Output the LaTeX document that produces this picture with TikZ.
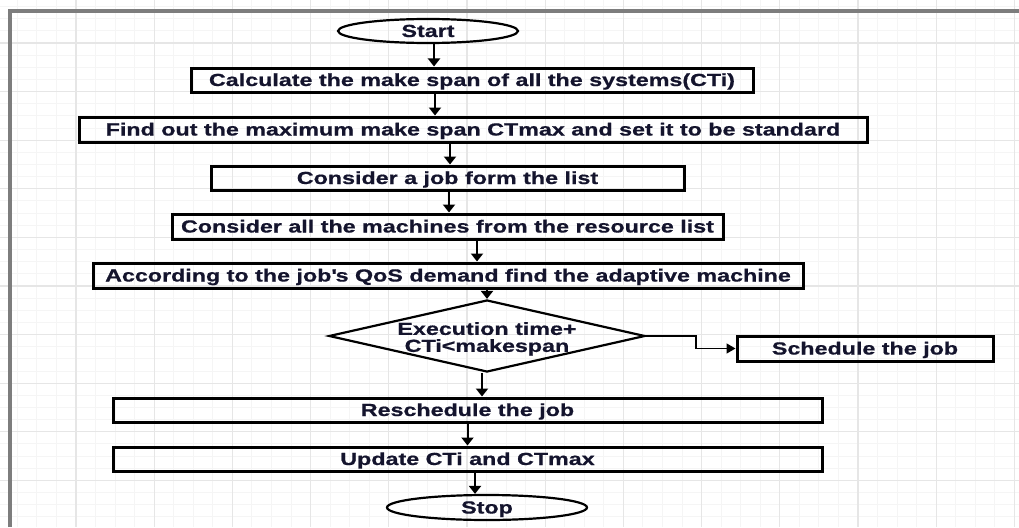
\documentclass[tikz,border=0pt]{standalone}
\usepackage{fontspec}
\setmainfont{Liberation Sans}[FakeStretch=1.33,BoldFeatures={FakeBold=0.8}]
\usetikzlibrary{arrows.meta,positioning,shapes.geometric}
\definecolor{txtcol}{RGB}{20,20,45}
\definecolor{framecol}{RGB}{125,125,125}
\definecolor{gridmaj}{RGB}{230,230,230}
\definecolor{gridmin}{RGB}{245,245,245}

\begin{document}
\begin{tikzpicture}[
            x=1pt,y=-1pt,
            base/.style={font=\bfseries\fontsize{17.5}{17}\selectfont,text=txtcol,inner sep=0pt,align=center},
            stepbox/.style={draw,rectangle,line width=3pt,base,text height=12.5pt,text depth=0.5pt},
            term/.style={draw,ellipse,line width=2.2pt,base,text height=12.5pt,text depth=0.5pt},
            test/.style={draw,diamond,line width=2.2pt,base,inner xsep=-4pt,inner ysep=-3pt,shape aspect=4.39},
            flow/.style={draw,line width=2pt,-{Triangle[width=12pt,length=8pt]}},
            minorline/.style={draw=gridmin,line width=1pt},
            majorline/.style={draw=gridmaj,line width=1.2pt}
          ]
          \useasboundingbox (0,0) rectangle (1019,527);
          %grid
          \foreach \gx in {0,...,52} \draw[minorline] ({-2.2+19.55*\gx},0) -- ++(0,527);
          \foreach \gy in {0,...,44} \draw[minorline] (0,{-5.6+12.15*\gy}) -- ++(1019,0);
          \foreach \gx in {0,...,13} \draw[majorline] ({-2.2+78.2*\gx},0) -- ++(0,527);
          \foreach \gy in {0,...,11} \draw[majorline] (0,{-5.6+48.6*\gy}) -- ++(1019,0);
          \draw[draw=framecol,line width=3.5pt] (10,527) -- (10,11) -- (1019,11);

          %flow chart
          \node[term,minimum width=180pt,minimum height=24pt] (start) at (428,31) {Start};
          \node[stepbox,minimum width=562pt,minimum height=24pt] (calc) at (472,80) {Calculate the make span of all the systems(CTi)};
          \node[stepbox,minimum width=788pt,minimum height=25pt] (findmax) at (473,129.5) {Find out the maximum make span CTmax and set it to be standard};
          \node[stepbox,minimum width=473pt,minimum height=24pt] (job) at (447.5,178) {Consider a job form the list};
          \node[stepbox,minimum width=551pt,minimum height=25pt] (machines) at (447.5,226.5) {Consider all the machines from the resource list};
          \node[stepbox,minimum width=710pt,minimum height=25pt] (qos) at (448,275.5) {According to the job\textquotesingle s QoS demand find the adaptive machine};
          \node[test,minimum width=316pt,minimum height=72pt] (check) at (487,336) {\rule{0pt}{18.4pt}Execution time+\\CTi<makespan};
          \node[stepbox,minimum width=256pt,minimum height=25pt] (sched) at (865,348.5) {Schedule the job};
          \node[stepbox,minimum width=709pt,minimum height=24pt] (resched) at (467.5,410) {Reschedule the job};
          \node[stepbox,minimum width=709pt,minimum height=24pt] (update) at (467.5,459) {Update CTi and CTmax};
          \node[term,minimum width=200pt,minimum height=25pt] (stop) at (487,507.5) {Stop};

          %connectors
          \draw[flow] ([xshift=6pt]start.south) -- ([xshift=6pt]start.south |- calc.north);
          \draw[flow] ([xshift=-37pt]calc.south) -- ([xshift=-37pt]calc.south |- findmax.north);
          \draw[flow] ([xshift=-23pt]findmax.south) -- ([xshift=-23pt]findmax.south |- job.north);
          \draw[flow] ([xshift=1.5pt]job.south) -- ([xshift=1.5pt]job.south |- machines.north);
          \draw[flow] ([xshift=29.5pt]machines.south) -- ([xshift=29.5pt]machines.south |- qos.north);
          \draw[flow] (qos.south -| check.north) -- (check.north);
          \draw[flow] ([xshift=-5pt]check.south) -- ([xshift=-5pt]check.south |- resched.north);
          \draw[flow] (resched) -- (update);
          \draw[flow] ([xshift=7.5pt]update.south) -- ([xshift=7.5pt]update.south |- stop.north);
          \draw[flow,line width=1.5pt,-{Triangle[width=10pt,length=9pt]}] (check.east) -- ++(50,0) |- (sched.west);

      \end{tikzpicture}
\end{document}
